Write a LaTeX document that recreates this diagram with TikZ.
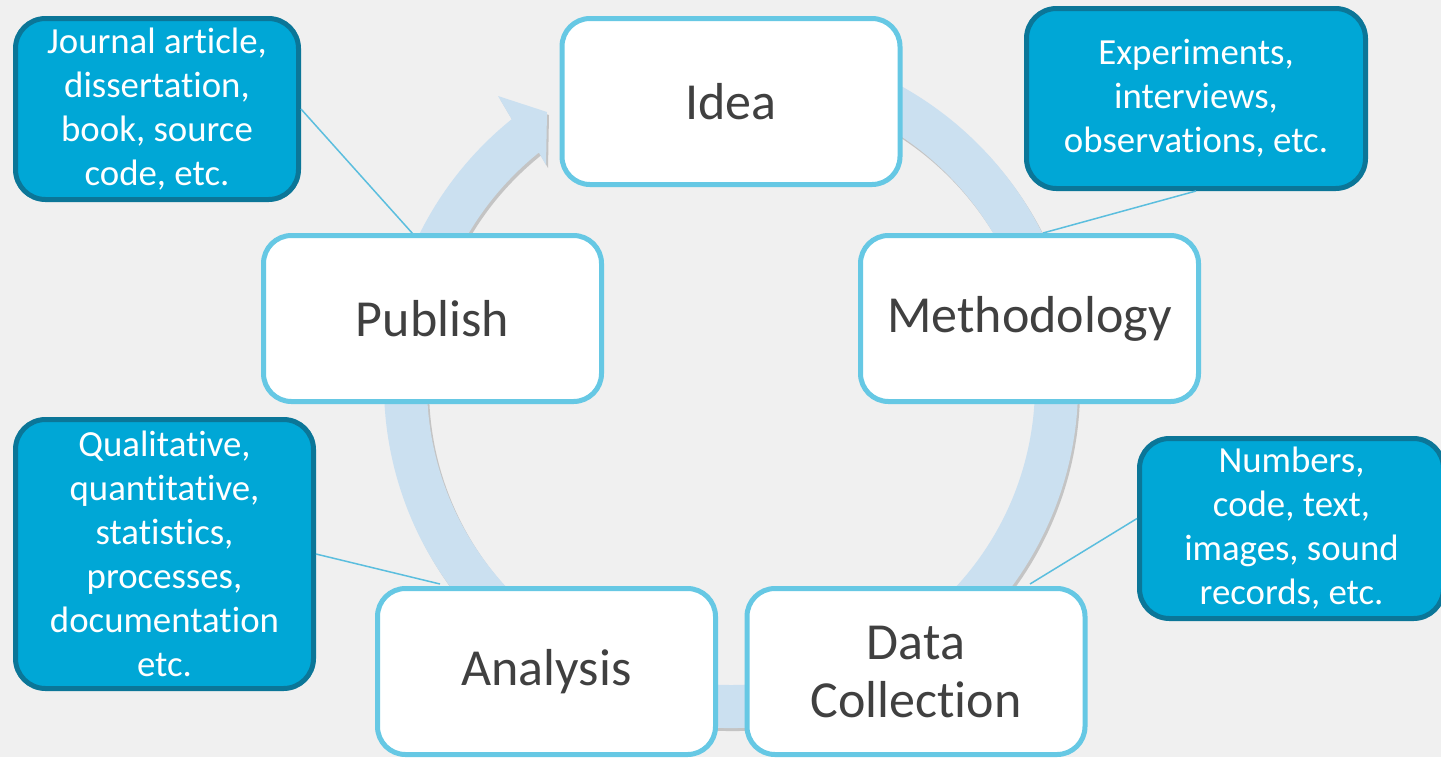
\documentclass[tikz,border=0pt]{standalone}
\usepackage{fontspec}
\setmainfont{Carlito}[Ligatures={NoCommon}]
\definecolor{bgcol}{RGB}{240,240,240}
\definecolor{ringcol}{RGB}{203,224,240}
\definecolor{boxedge}{RGB}{102,200,228}
\definecolor{txtgrey}{RGB}{64,64,64}
\definecolor{notefill}{RGB}{0,167,214}
\definecolor{noteedge}{RGB}{11,118,152}
\definecolor{linkcol}{RGB}{91,190,222}
\newcommand{\cyclering}{(100:347 and 343) arc[start angle=100, end angle=-230.8, x radius=347, y radius=343] -- (-233,289) -- (-184,273) -- (-185,220) -- (-230.8:304 and 300) arc[start angle=-230.8, end angle=100, x radius=304, y radius=300] -- cycle}
\begin{document}
\begin{tikzpicture}[x=0.5pt,y=0.5pt,
  bigbox/.style={draw=boxedge, line width=2.5pt, fill=white, rounded corners=14pt,
    minimum width=169pt, minimum height=83pt, inner sep=0pt, text=txtgrey,
    font=\fontsize{26}{29}\selectfont, align=center},
  notebox/.style={draw=noteedge, line width=2.5pt, fill=notefill, rounded corners=15pt,
    inner sep=0pt, text=white, font=\fontsize{18.4}{22}\selectfont, align=center},
  link/.style={draw=linkcol, line width=0.75pt}]
\useasboundingbox (0,0) rectangle (1441,-757);
\clip (0,0) rectangle (1441,-757);
\fill[bgcol] (0,0) rectangle (1441,-757);
% ring arrow
\begin{scope}[shift={(731,-385)}]
  \fill[black, opacity=0.18, shift={(2,-3)}] \cyclering;
  \fill[ringcol] \cyclering;
\end{scope}
% note boxes
\node[notebox, minimum width=141.5pt, minimum height=90.5pt] (tl) at (157,-109)
  {Journal article,\\dissertation,\\book, source\\code, etc.};
\node[notebox, minimum width=169.5pt, minimum height=90pt] (tr) at (1196,-98.5)
  {Experiments,\\interviews,\\observations, etc.};
\node[notebox, minimum width=152pt, minimum height=90pt] (rb) at (1291.5,-528.5)
  {Numbers,\\code, text,\\images, sound\\records, etc.};
\node[notebox, minimum width=149pt, minimum height=134.5pt] (bl) at (164.5,-554)
  {Qualitative,\\quantitative,\\statistics,\\processes,\\documentation\\etc.};
% connector ends on the main boxes
\coordinate (pubtop) at (413,-234);
\coordinate (methtop) at (1043,-233);
\coordinate (dctop) at (1030,-584);
\coordinate (antop) at (440,-584);
\draw[link] (tl.east) -- (pubtop);
\draw[link] (tr.south) -- (methtop);
\draw[link] ([yshift=5pt]rb.west) -- (dctop);
\draw[link] (bl.east) -- (antop);
% main boxes
\node[bigbox] (idea) at (731,-101.5) {Idea};
\node[bigbox] (meth) at (1029.5,-318.5) {Methodology};
\node[bigbox] (pub) at (432.5,-318.5) {Publish};
\node[bigbox] (ana) at (546.5,-671.5) {Analysis};
\node[bigbox] (dc) at (916,-671.5) {Data\\Collection};
\end{tikzpicture}
\end{document}
